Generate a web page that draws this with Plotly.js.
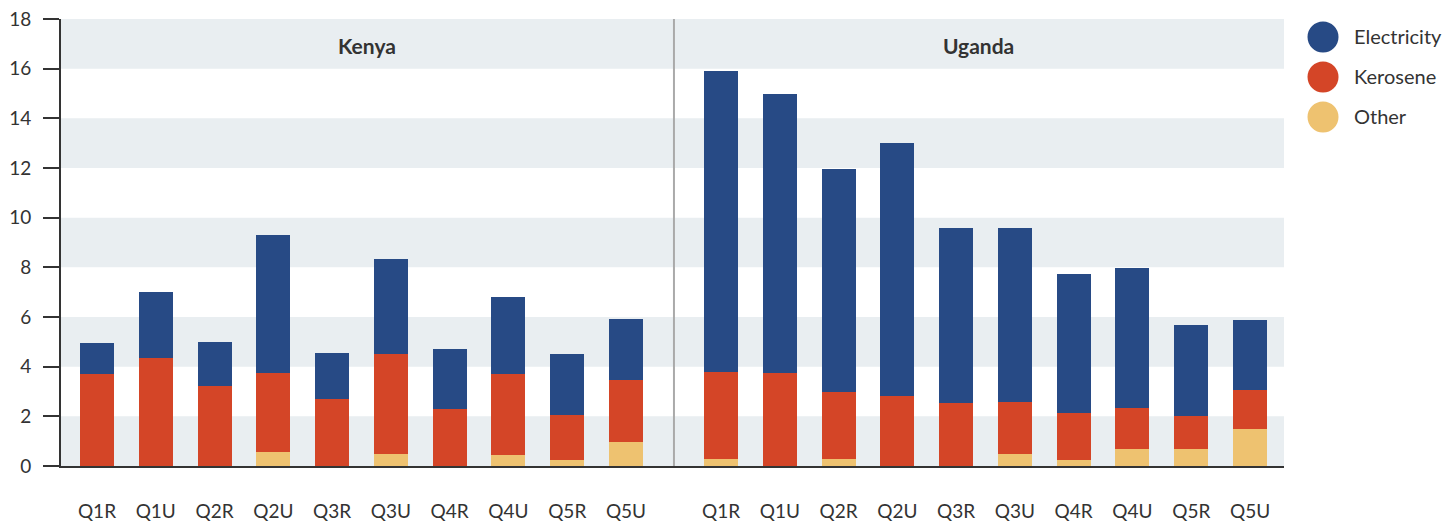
<!DOCTYPE html>
<html>
<head>
<meta charset="utf-8">
<script src="https://cdn.plot.ly/plotly-3.0.1.min.js"></script>
<style>
  html, body { margin: 0; padding: 0; background: #fff; }
  #wykres { width: 1443px; height: 523px; }
</style>
</head>
<body>
<div id="wykres"></div>
<script>
// kategorie: kwintyl + R (rural) / U (urban)
const kategorie = ['Q1R', 'Q1U', 'Q2R', 'Q2U', 'Q3R', 'Q3U', 'Q4R', 'Q4U', 'Q5R', 'Q5U'];
const kraje = ['Kenya', 'Uganda'];
const serie = ['Electricity', 'Kerosene', 'Other'];

// wartości pojedynczych warstw
const kenyaOther       = [0,    0,    0,    0.55, 0,    0.47, 0,    0.43, 0.23, 0.95];
const kenyaKerosene    = [3.69, 4.34, 3.21, 3.18, 2.69, 4.03, 2.28, 3.26, 1.81, 2.50];
const kenyaElectricity = [1.25, 2.66, 1.77, 5.56, 1.85, 3.83, 2.42, 3.10, 2.46, 2.46];

const ugandaOther       = [0.27,  0,     0.27, 0,     0,    0.47, 0.23, 0.67, 0.67, 1.48];
const ugandaKerosene    = [3.52,  3.75,  2.73, 2.81,  2.53, 2.10, 1.89, 1.66, 1.33, 1.57];
const ugandaElectricity = [12.11, 11.23, 8.95, 10.19, 7.04, 7.00, 5.60, 5.63, 3.67, 2.82];

const kolory = { Electricity: '#274a85', Kerosene: '#d44527', Other: '#eec270' };
const yTicks = [0, 2, 4, 6, 8, 10, 12, 14, 16, 18];

const FONT = 'Lato, "Open Sans", sans-serif';
const TEKST = '#333';

// ---------- ślady ----------
const dane = {
  Kenya: { Other: kenyaOther, Kerosene: kenyaKerosene, Electricity: kenyaElectricity },
  Uganda: { Other: ugandaOther, Kerosene: ugandaKerosene, Electricity: ugandaElectricity },
};

const slady = [];
kraje.forEach((kraj, k) => {
  // kolejność od dołu: Other, Kerosene, Electricity
  ['Other', 'Kerosene', 'Electricity'].forEach(s => {
    slady.push({
      type: 'bar', x: kategorie, y: dane[kraj][s], name: s,
      xaxis: k === 0 ? 'x' : 'x2', yaxis: 'y',
      marker: { color: kolory[s], line: { width: 0 } },
      showlegend: false, hoverinfo: 'x+y+name',
    });
  });
});

// ---------- układ ----------
const podzial = 0.5012; // granica paneli w jednostkach paper

const pasy = [];
for (let i = 0; i < yTicks.length - 1; i += 2) {
  pasy.push({
    type: 'rect', xref: 'paper', yref: 'y', x0: 0, x1: 1, y0: yTicks[i], y1: yTicks[i + 1],
    fillcolor: '#e9eef1', line: { width: 0 }, layer: 'below',
  });
}

const legendaY = [0.9597, 0.8702, 0.7808];
const legendaKsztalty = serie.map((s, i) => ({
  type: 'circle', xref: 'paper', yref: 'paper',
  xsizemode: 'pixel', ysizemode: 'pixel',
  xanchor: 1.0319, yanchor: legendaY[i],
  x0: -15.5, x1: 15.5, y0: -15.5, y1: 15.5,
  fillcolor: kolory[s], line: { width: 0 },
}));
const legendaTeksty = serie.map((s, i) => ({
  text: s, xref: 'paper', yref: 'paper', x: 1.0552, y: legendaY[i] + 0.003,
  xanchor: 'left', yanchor: 'middle', showarrow: false,
  font: { family: FONT, size: 20, color: TEKST },
}));

const tytulyPaneli = kraje.map((kraj, k) => ({
  text: '<b>' + kraj + '</b>', xref: 'paper', yref: 'paper',
  x: k === 0 ? podzial / 2 : (1 + podzial) / 2, y: 0.9418,
  xanchor: 'center', yanchor: 'middle', showarrow: false,
  font: { family: FONT, size: 21, color: TEKST },
}));

const osX = {
  type: 'category', showgrid: false, zeroline: false,
  showline: true, linecolor: '#333', linewidth: 2,
  ticks: '', ticklabelstandoff: 27,
  tickfont: { family: FONT, size: 19, color: TEKST },
  fixedrange: true,
};

const uklad = {
  width: 1443, height: 523,
  margin: { l: 61, r: 159, t: 19, b: 57 },
  paper_bgcolor: '#fff', plot_bgcolor: '#fff',
  barmode: 'stack', bargap: 0.422,
  showlegend: false,
  font: { family: FONT, color: TEKST },
  xaxis: Object.assign({}, osX, { domain: [0, podzial], range: [-0.612, 9.816], anchor: 'y' }),
  xaxis2: Object.assign({}, osX, { domain: [podzial, 1], range: [-0.80, 9.578], anchor: 'y' }),
  yaxis: {
    range: [0, 18], tickvals: yTicks, showgrid: false, zeroline: false,
    showline: true, linecolor: '#333', linewidth: 2,
    ticks: 'outside', ticklen: 16, tickwidth: 2, tickcolor: '#333',
    ticklabelstandoff: 8,
    tickfont: { family: FONT, size: 19, color: TEKST },
    anchor: 'x', fixedrange: true,
  },
  shapes: pasy.concat([{
    type: 'line', xref: 'paper', yref: 'paper', x0: podzial, x1: podzial, y0: 0, y1: 1,
    line: { color: '#aaa', width: 2 },
  }], legendaKsztalty),
  annotations: tytulyPaneli.concat(legendaTeksty),
};

Plotly.newPlot('wykres', slady, uklad, { displayModeBar: false, staticPlot: true });
</script>
</body>
</html>
